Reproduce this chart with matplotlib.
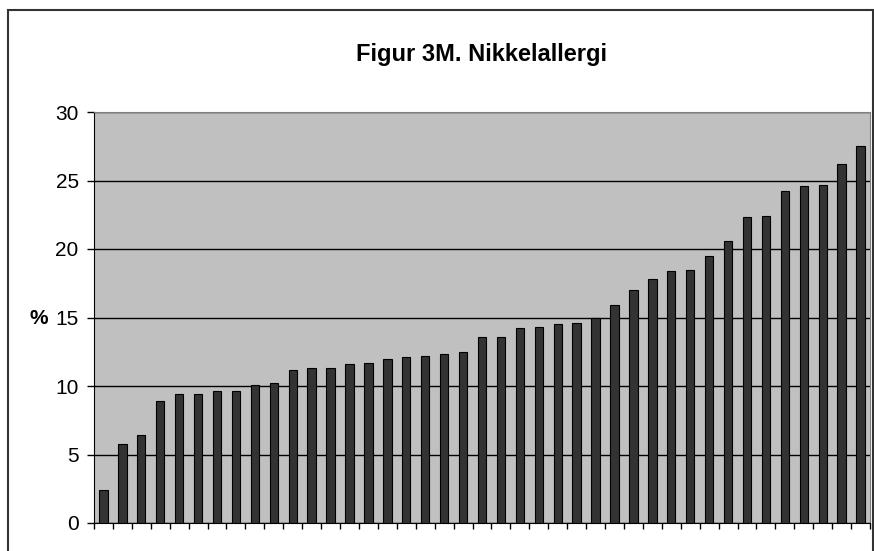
import numpy as np
import matplotlib
matplotlib.use('Agg')
import matplotlib.pyplot as plt
from matplotlib.patches import Rectangle

plt.rcParams['font.family'] = ['Liberation Sans', 'DejaVu Sans']

TITLE = 'Figur 3M. Nikkelallergi'
YLABEL = '%'

# share with nickel allergy, sorted ascending
values = [2.4, 5.8, 6.4, 8.9, 9.4, 9.4, 9.6, 9.6, 10.1, 10.2,
          11.2, 11.3, 11.3, 11.6, 11.7, 12.0, 12.1, 12.2, 12.3, 12.5,
          13.6, 13.6, 14.2, 14.3, 14.5, 14.6, 15.0, 15.9, 17.0, 17.8,
          18.4, 18.5, 19.5, 20.6, 22.3, 22.4, 24.2, 24.6, 24.7, 26.2,
          27.5]
yticks = [0, 5, 10, 15, 20, 25, 30]

fig = plt.figure(figsize=(8.74, 5.51), dpi=100)
ax = fig.add_axes([94 / 874, 1 - 523 / 551, (870 - 94) / 874, (523 - 112) / 551])
ax.set_facecolor('#c0c0c0')

x = np.arange(len(values))
ax.bar(x, values, width=0.44, color='#333333', edgecolor='black', linewidth=0.8, zorder=3)

ax.set_xlim(-0.5, len(values) - 0.5)
ax.set_ylim(0, 30)
ax.set_yticks(yticks)
ax.set_yticklabels([str(t) for t in yticks], fontsize=15)
ax.set_xticks(np.arange(len(values) + 1) - 0.5)
ax.set_xticklabels([])
ax.tick_params(axis='y', length=5, width=1, pad=6)
ax.tick_params(axis='x', length=4, width=1)
ax.grid(axis='y', color='black', linewidth=1, zorder=1)
ax.set_axisbelow(True)

for side in ['top', 'right']:
    ax.spines[side].set_color('#808080')
ax.spines['left'].set_color('black')
ax.spines['bottom'].set_color('black')

# axis label sits level with the 15 tick
fig.text(48 / 874, 1 - 318 / 551, YLABEL, ha='right', va='center',
         fontsize=15, fontweight='bold')
fig.text((94 + 870) / 2 / 874, 1 - 55 / 551, TITLE, ha='center', va='center',
         fontsize=17, fontweight='bold')

# frame around the whole chart
fig.patches.append(Rectangle((8 / 874, -0.05), (873 - 8) / 874, 1.05 - 10 / 551,
                             transform=fig.transFigure, fill=False,
                             edgecolor='#333333', linewidth=1.5))

fig.savefig('out.png', dpi=100)
